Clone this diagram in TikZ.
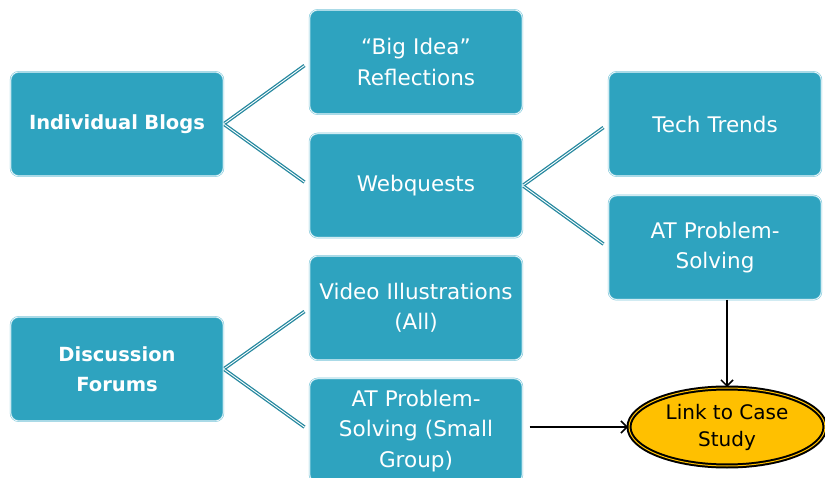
\documentclass[tikz,border=0pt]{standalone}
\usepackage{fontspec}
\setmainfont{DejaVu Sans}
\usetikzlibrary{arrows.meta}
\usetikzlibrary{positioning}
\usetikzlibrary{shapes.geometric}
\definecolor{boxteal}{HTML}{2EA3BF}
\definecolor{edgeteal}{HTML}{7CC7DA}
\definecolor{linkteal}{HTML}{25889F}
\definecolor{casegold}{HTML}{FFC000}
\tikzstyle{block} = [rectangle, fill=boxteal, draw=edgeteal, double=white,
    double distance=0.6pt, line width=0.6pt, rounded corners=8pt,
    minimum width=210pt, minimum height=104pt, text width=206pt,
    align=center, text=white, font=\fontsize{21.5}{30.5}\selectfont]
\tikzstyle{oval} = [ellipse, fill=casegold, draw=black, double=casegold,
    double distance=1pt, line width=2pt, minimum width=196pt,
    minimum height=78pt, inner sep=0pt, align=center,
    font=\fontsize{20}{27}\selectfont]
\tikzstyle{branch} = [draw=linkteal, double=white, double distance=0.9pt,
    line width=1.3pt]
\tikzstyle{arrow} = [draw=black, line width=1.5pt,
    -{Straight Barb[length=6pt,width=12pt]}]

\begin{document}
\begin{tikzpicture}[x=1pt,y=-1pt]
    \useasboundingbox (0,0) rectangle (825,478);

    \node[block,font=\fontsize{19.5}{30.5}\selectfont\bfseries] (blogs) at (117,124) {Individual Blogs};
    \node[block] (bigidea) at (416,62) {``Big Idea''\\Reflections};
    \node[block,below=19pt of bigidea] (webquests) {Webquests};
    \node[block] (trends) at (715,124) {Tech Trends};
    \node[block,below=19pt of trends] (atps) {AT Problem-\\Solving};

    \node[block,font=\fontsize{19.5}{30.5}\selectfont\bfseries] (forums) at (117,369) {Discussion\\Forums};
    \node[block] (video) at (416,308) {Video Illustrations\\(All)};
    \node[block,below=18pt of video] (atsmall) {AT Problem-\\Solving (Small\\Group)};

    \node[oval] (casestudy) at (727,427) {Link to Case\\Study};

    % branches
    \draw[branch,shorten <=1pt,shorten >=6pt] (blogs.east) -- (bigidea.west);
    \draw[branch,shorten <=1pt,shorten >=6pt] (blogs.east) -- (webquests.west);
    \draw[branch,shorten <=1pt,shorten >=6pt] (webquests.east) -- (trends.west);
    \draw[branch,shorten <=1pt,shorten >=6pt] (webquests.east) -- (atps.west);
    \draw[branch,shorten <=1pt,shorten >=6pt] (forums.east) -- (video.west);
    \draw[branch,shorten <=1pt,shorten >=6pt] (forums.east) -- (atsmall.west);

    % links to the case study
    \draw[arrow] (atps.south -| casestudy.north) -- (casestudy.north);
    \draw[arrow,shorten <=7pt] (atsmall.east |- casestudy.west) -- (casestudy.west);
\end{tikzpicture}
\end{document}
